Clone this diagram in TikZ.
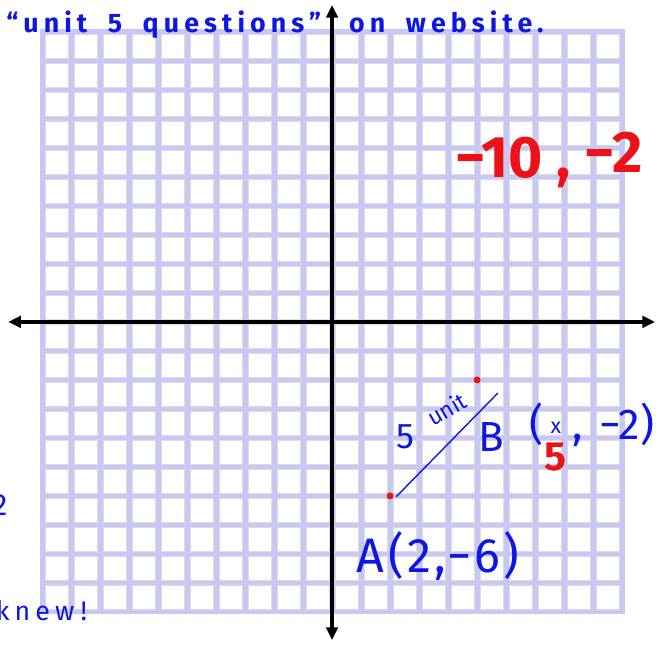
\documentclass[tikz,border=0pt]{standalone}
\usepackage{fontspec}
\newfontfamily\hand{Fira Sans}
\newfontfamily\handloose[LetterSpace=7]{Fira Sans}
\newfontfamily\handspread[LetterSpace=19,WordSpace=1.8]{Fira Sans}
\usepackage{xcolor}
\usepackage{tikz}
\usetikzlibrary{positioning,arrows.meta,calc}

\definecolor{gridlav}{RGB}{200,200,244}
\definecolor{cellrim}{RGB}{220,220,224}
\definecolor{penblue}{RGB}{14,22,230}
\definecolor{penred}{RGB}{236,18,26}

\begin{document}
\begin{tikzpicture}[
  x=0.8cm, y=0.8cm,
  cellbox/.style={fill=white, draw=cellrim, line width=0.6pt},
  axisline/.style={line width=3.1pt,
                   {Triangle[length=10pt, width=9pt]}-{Triangle[length=10pt, width=9pt]}},
  inkblue/.style={text=penblue, inner sep=0pt},
  inkred/.style={text=penred, inner sep=0pt},
  reddot/.style={circle, fill=penred, inner sep=0pt, minimum size=5.5pt},
  seg/.style={draw=penblue, line width=1.1pt},
]
\useasboundingbox (-11.45,-11.17) rectangle (11.48,11.10);

%% Graph paper
\fill[gridlav] (-10.086,-10.086) rectangle (10.086,10.086);
\foreach \i in {-10,...,9}{
  \foreach \j in {-10,...,9}{
    \draw[cellbox] (\i+0.1,\j+0.1) rectangle (\i+0.9,\j+0.9);
  }
}

%% Axes
\coordinate (xleft) at (-11.17,0);
\coordinate (xright) at (11.14,0);
\coordinate (ybottom) at (0,-10.97);
\coordinate (ytop) at (0,10.93);
\draw[axisline] (xleft) -- (xright);
\draw[axisline] (ybottom) -- (ytop);

%% Segment AB
\node[reddot] (A) at (2,-6) {};
\node[reddot] (B) at (5,-2) {};
\coordinate (segA) at (2.21,-6.03);
\coordinate (segB) at (5.72,-2.45);
\draw[seg] (segA) -- (segB);

%% Notes
\node[inkblue, font={\handspread\bfseries\fontsize{21}{21}\selectfont}, anchor=base west] (note)
  at (-11.24,9.98) {“unit 5 questions”\hspace{6pt} on website.};
\node[inkred, font={\hand\bfseries\fontsize{46}{46}\selectfont}] (guess)
  at (7.48,5.59) {−10 , \raisebox{4pt}{−2}};
\node[inkblue, font={\hand\fontsize{28}{28}\selectfont}] (five) at (2.52,-3.97) {5};
\node[inkblue, font={\hand\fontsize{18}{18}\selectfont}, rotate=30] (unit) at (3.95,-3.0) {unit};
\node[inkblue, font={\hand\fontsize{33}{33}\selectfont}] (Blab) at (5.48,-3.97) {B};
\node[inkblue, font={\hand\fontsize{34}{34}\selectfont}] (Bxy) at (8.95,-3.55)
  {(\hspace{6pt}\raisebox{5pt}{\fontsize{17}{17}\selectfont x}\hspace{9pt}, \hspace{4pt}−2)};
\node[inkred, font={\hand\bfseries\fontsize{32}{32}\selectfont}] (xval) at (7.69,-4.65) {5};
\node[inkblue, font={\handloose\fontsize{38}{38}\selectfont}] (Alab) at (3.66,-8.07) {A(2,−6)};
\node[inkblue, font={\hand\fontsize{24}{24}\selectfont}] (cut2) at (-11.45,-6.31) {2};
\node[inkblue, font={\handspread\fontsize{21}{21}\selectfont}, anchor=base west] (knew)
  at (-11.6,-10.3) {knew\hspace{5pt}!};

\end{tikzpicture}
\end{document}
